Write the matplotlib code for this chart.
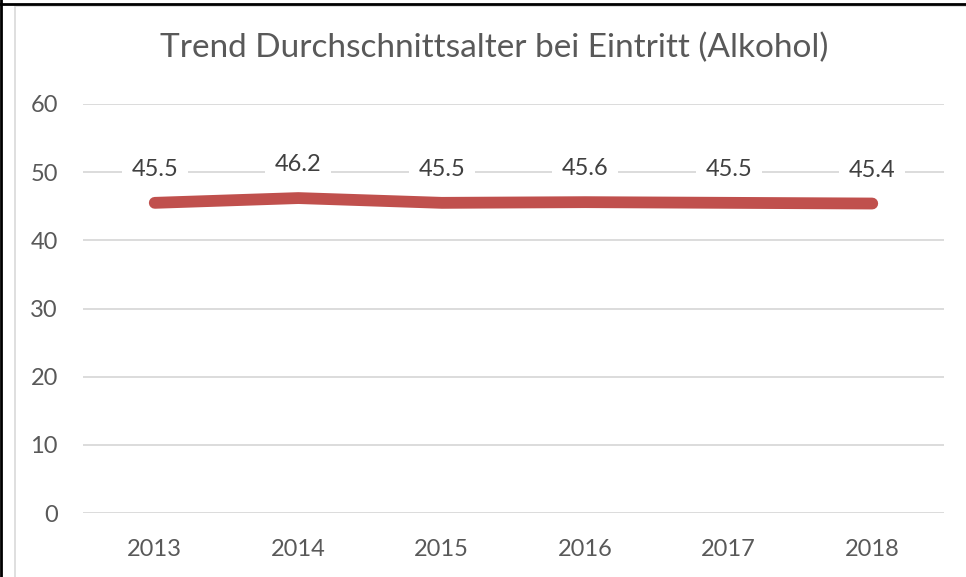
import matplotlib
matplotlib.use("Agg")
import matplotlib.pyplot as plt
from matplotlib.lines import Line2D
from matplotlib.patches import Rectangle

years = ["2013", "2014", "2015", "2016", "2017", "2018"]
avg_age = [45.5, 46.2, 45.5, 45.6, 45.5, 45.4]
y_ticks = [0, 10, 20, 30, 40, 50, 60]

TEXT = "#595959"
plt.rcParams["font.family"] = ["Lato", "DejaVu Sans"]

fig = plt.figure(figsize=(9.66, 5.77), dpi=100)
ax = fig.add_axes([83 / 966, 1 - 513 / 577, 861 / 966, 409 / 577])

x = range(len(years))
ax.plot(x, avg_age, color="#C0504D", lw=8.5, solid_capstyle="round",
        solid_joinstyle="round", zorder=3)

for i, v in zip(x, avg_age):
    ax.annotate(f"{v:.1f}", (i, v), xytext=(0, 24), textcoords="offset points",
                ha="center", va="center", fontsize=17, color="#404040", zorder=4,
                bbox=dict(boxstyle="square,pad=0.4", fc="white", ec="none"))

ax.set_xlim(-0.5, len(years) - 0.5)
ax.set_ylim(0, 60)
ax.set_yticks(y_ticks)
ax.set_xticks(list(x))
ax.set_xticklabels(years)
ax.grid(axis="y", color="#D9D9D9", lw=1.3)
ax.set_axisbelow(True)
for s in ax.spines.values():
    s.set_visible(False)
ax.tick_params(length=0, labelsize=17, labelcolor=TEXT)
ax.tick_params(axis="y", pad=18)
ax.tick_params(axis="x", pad=19)

fig.text(494 / 966, 1 - 48 / 577, "Trend Durchschnittsalter bei Eintritt (Alkohol)",
         ha="center", va="center", fontsize=24, color=TEXT)

# chart frame and outer border
fig.patches.append(Rectangle((15 / 966, -0.01), 1.0, 1 - 6 / 577 + 0.01,
                             transform=fig.transFigure, fill=False,
                             ec="#D9D9D9", lw=1.2))
fig.lines.append(Line2D([0, 1], [1 - 4 / 577, 1 - 4 / 577], transform=fig.transFigure,
                        color="black", lw=2))
fig.lines.append(Line2D([1 / 966, 1 / 966], [0, 1], transform=fig.transFigure,
                        color="black", lw=2))

fig.savefig("out.png", dpi=100)
